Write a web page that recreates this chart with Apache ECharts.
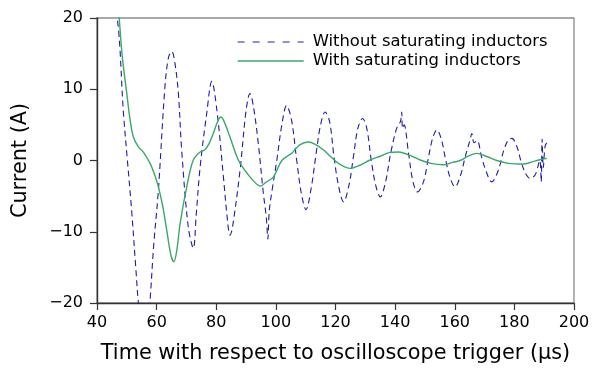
<!DOCTYPE html>
<html>
<head>
<meta charset="utf-8">
<script src="https://cdn.jsdelivr.net/npm/echarts@6/dist/echarts.min.js"></script>
<style>
html,body{margin:0;padding:0;background:#fff;}
#chart{width:607px;height:375px;}
</style>
</head>
<body>
<div id="chart"></div>
<script>
// Tick labels
const xTicks = [40, 60, 80, 100, 120, 140, 160, 180, 200];
const yTicks = [-20, -10, 0, 10, 20];

// Series: Without saturating inductors (time µs, current A)
const withoutX = [46.5,47.5,48.8,50.2,51.6,53,54,55.5,57,57.8,59,60.6,62.8,64,65.1,66.2,67.3,68.4,70.6,72.3,73.3,74.6,76.8,78.5,80.2,82.4,83.8,84.6,85.4,88,90,91.3,92.5,94.1,95.8,96.8,97.3,97.8,98.8,100.3,102,103.6,105.2,107,108.5,110.1,111.8,113.5,115,116.5,118,119.5,121,122.7,124.5,126,127.5,129.1,130.5,132,133.5,135,136.8,138.5,140.5,141.8,142.2,142.5,143,144.5,146,147.5,149.5,151,152.5,154,155.5,157,158.5,160.1,162,163.5,165.2,165.7,166.5,167.5,169,170.5,172.4,174.5,176.5,178,179.2,180.8,182.5,184,185.3,187,188.5,189,189.3,189.7,190.3,191];
const withoutY = [21,17,7.1,0,-6.9,-15,-20.5,-25,-23,-19.6,-12,-4.1,10.4,14.5,15.3,13.5,9.4,1.5,-9.3,-12.3,-7.5,-0.9,6.6,11.1,7.1,-2.3,-8.5,-10.5,-9.5,-1.3,7,9.4,7.5,2.4,-4.6,-8,-11,-7,-4,0,5,7.7,5.8,0,-4.5,-6.9,-4,1,5,6.8,5.5,0.5,-3.5,-5.8,-3.5,0.5,4.5,5.9,4.5,0,-3.5,-5.1,-3,1,4.5,5.5,6.8,4.5,5,1,-3,-4.4,-3,0,3,4.3,3,0,-2.5,-3.7,-2,0.5,3,3.8,2.5,2.8,0.5,-1.5,-3.0,-1.5,1.5,2.9,3.1,2,-0.5,-2,-2.5,-2,0,-3,3,-1,2,2.6];

// Series: With saturating inductors
const withX = [47.3,47.5,48.5,50,51,52.2,53.9,55.5,57.8,59.5,60.6,62,63.4,64.8,65.8,66.8,67.9,70.1,72.3,74.6,76.2,77.5,79,80.5,81.5,82.5,84.6,86.5,88,91.3,93.5,94.9,96.5,99.2,102,105.5,108,110.9,113.5,115.9,118.5,121,124.9,128,131.6,135,138,141.1,144.5,148.4,152,156.2,159,161.8,164.5,167.4,170.5,174.1,178,183,186,188.5,190.9];
const withY = [21,19.7,14.5,9.4,6,3.3,1.9,1.2,-0.4,-2.2,-3.7,-6.3,-9.8,-13.3,-14.2,-12.5,-8.8,-3.7,0.07,1.2,1.5,2.3,3.8,5.5,6.1,5.6,3.3,1,-0.4,-2.3,-3.3,-3.6,-3.1,-2.3,0,1.1,2.2,2.6,2.2,1.5,0.5,-0.4,-1.1,-0.7,0.07,0.6,1.1,1.2,0.8,0.07,-0.4,-0.6,-0.3,0,0.6,1.0,0.6,0,-0.4,-0.5,-0.2,0.1,0.3];

const zip = (xs, ys) => xs.map((x, i) => [x, ys[i]]);
const font = 'DejaVu Sans';
const fmtMinus = v => String(v).replace('-', '\u2212');

const chart = echarts.init(document.getElementById('chart'), null, {renderer: 'canvas'});
chart.setOption({
  animation: false,
  backgroundColor: '#fff',
  textStyle: {fontFamily: font},
  grid: {left: 97, right: 33, top: 18, bottom: 72, show: true, borderColor: '#8c8c8c', borderWidth: 1.3, backgroundColor: 'transparent'},
  legend: {
    orient: 'vertical', left: 237, top: 34, padding: 0, itemWidth: 66, itemHeight: 12, itemGap: 3,
    itemStyle: {opacity: 0},
    textStyle: {fontFamily: font, fontSize: 16.4, color: '#000', padding: [0, 0, 0, 4]},
    data: [
      {name: 'Without saturating inductors', lineStyle: {color: '#6b6bc4', type: [7, 8], width: 1.3}},
      {name: 'With saturating inductors', lineStyle: {color: '#3aa86a', width: 1.3}}
    ]
  },
  xAxis: {
    type: 'value', min: 40, max: 200, interval: 20,
    name: 'Time with respect to oscilloscope trigger (\u00b5s)', nameLocation: 'middle', nameGap: 40,
    nameTextStyle: {fontFamily: font, fontSize: 20.8, color: '#000'},
    axisLine: {onZero: false, lineStyle: {color: '#333', width: 1.4}},
    axisTick: {show: true, inside: false, length: 7, lineStyle: {color: '#333', width: 1.2}},
    axisLabel: {fontFamily: font, fontSize: 16, color: '#000', margin: 12, customValues: xTicks},
    splitLine: {show: false}
  },
  yAxis: {
    type: 'value', min: -20, max: 20, interval: 10,
    name: 'Current (A)', nameLocation: 'middle', nameGap: 66,
    nameTextStyle: {fontFamily: font, fontSize: 20.8, color: '#000'},
    axisLine: {show: true, onZero: false, lineStyle: {color: '#333', width: 1.4}},
    axisTick: {show: true, inside: false, length: 7, lineStyle: {color: '#333', width: 1.2}},
    axisLabel: {fontFamily: font, fontSize: 16, color: '#000', margin: 14, formatter: fmtMinus, customValues: yTicks},
    splitLine: {show: false}
  },
  series: [
    {
      name: 'Without saturating inductors', type: 'line', data: zip(withoutX, withoutY),
      showSymbol: false, symbol: 'none', smooth: 0.35, clip: true,
      lineStyle: {color: '#1c1ca8', width: 1.1, type: [6, 4]},
      itemStyle: {color: '#6a6ac4'}
    },
    {
      name: 'With saturating inductors', type: 'line', data: zip(withX, withY),
      showSymbol: false, symbol: 'none', smooth: 0.35, clip: true,
      lineStyle: {color: '#3aa86a', width: 1.4},
      itemStyle: {color: '#3aa86a'}
    }
  ]
});
</script>
</body>
</html>
